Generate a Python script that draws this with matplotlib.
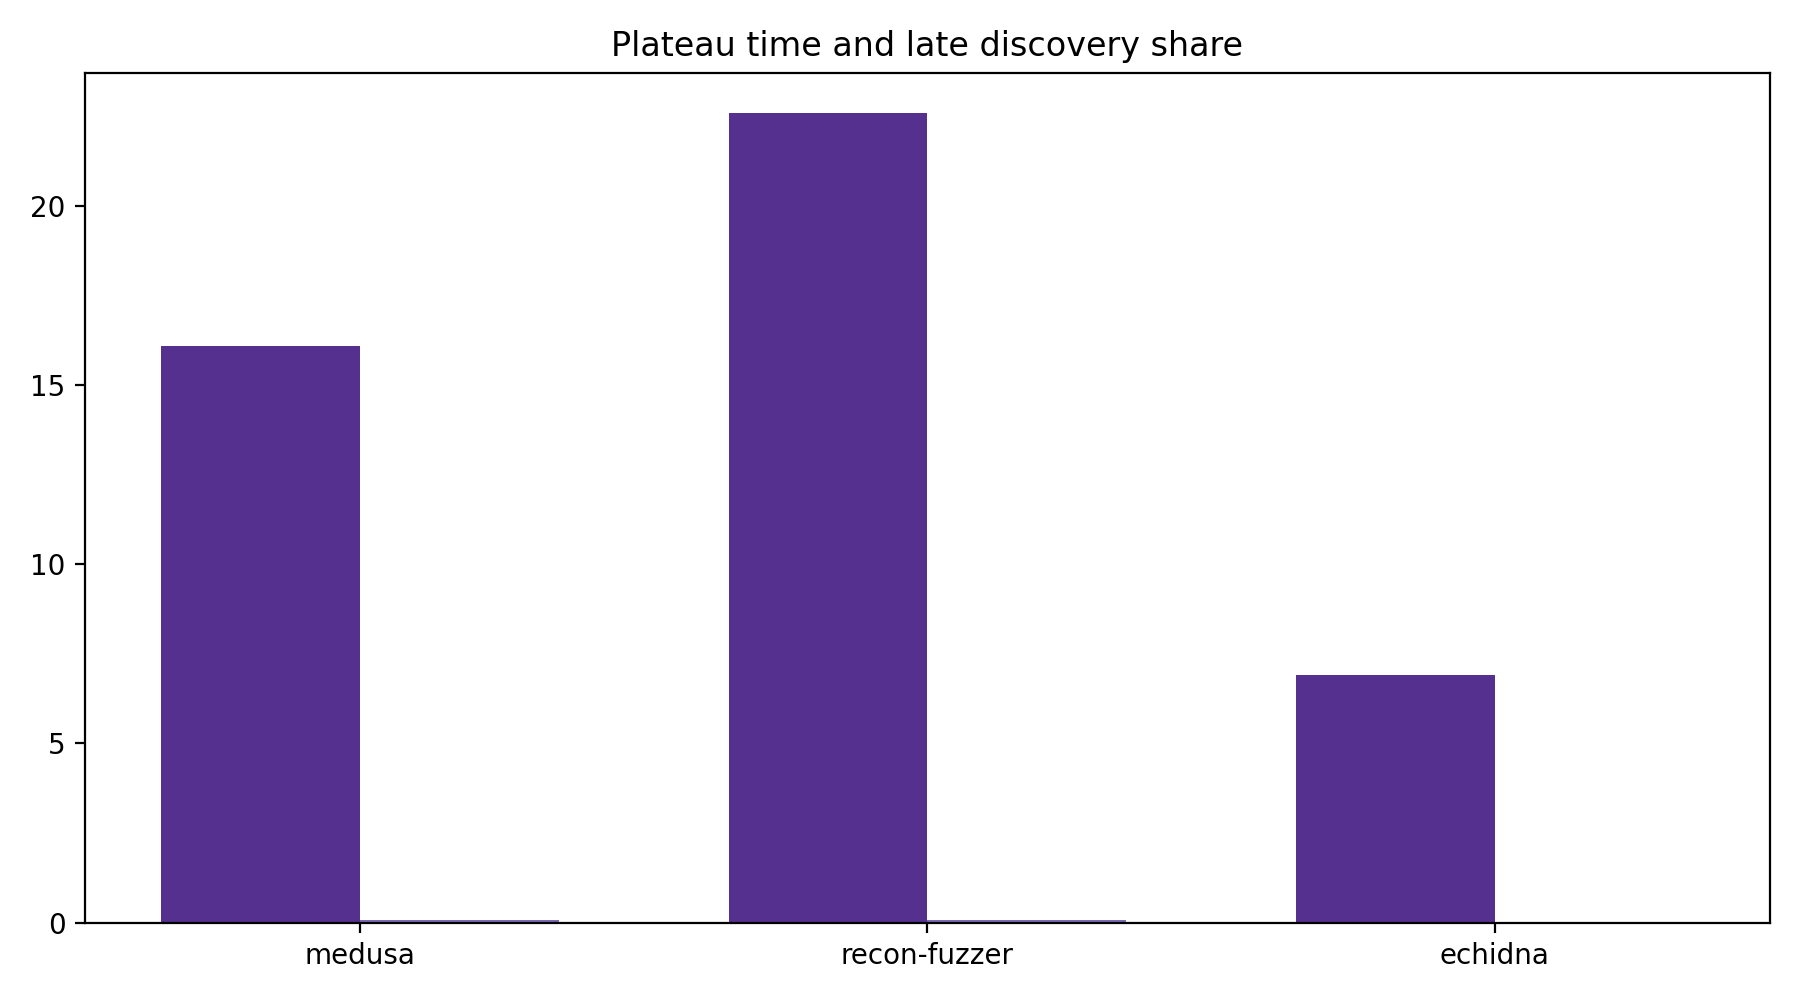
import matplotlib
matplotlib.use("Agg")
import matplotlib.pyplot as plt
import numpy as np

categories = ["medusa", "recon-fuzzer", "echidna"]
plateau_time = [16.1, 22.6, 6.9]
late_share = [0.08, 0.07, 0.0]

fig, ax = plt.subplots(figsize=(9, 5), dpi=200)
x = np.arange(len(categories))
w = 0.35
ax.bar(x - w/2, plateau_time, w, color="#56308f")
ax.bar(x + w/2, late_share, w, color="#7b6bb5")
ax.set_xticks(x)
ax.set_xticklabels(categories)
ax.set_title("Plateau time and late discovery share")
fig.tight_layout()
fig.savefig("out.png")
